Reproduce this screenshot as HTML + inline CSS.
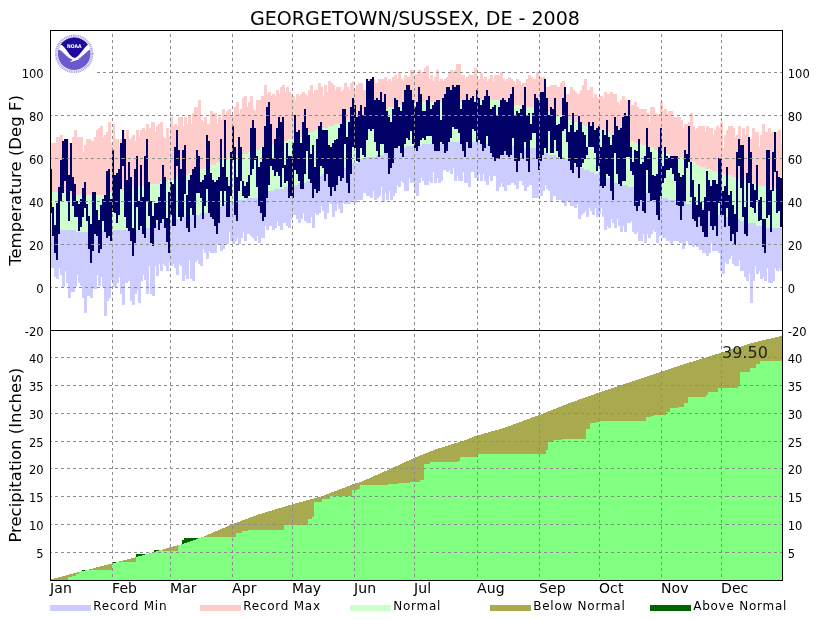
<!DOCTYPE html>
<html lang="en"><head><meta charset="utf-8"><title>GEORGETOWN/SUSSEX, DE - 2008</title>
<style>html,body{margin:0;padding:0;background:#fff}body{width:832px;height:620px;overflow:hidden}svg{display:block}</style>
</head><body>
<svg width="832" height="620" viewBox="0 0 832 620" shape-rendering="crispEdges" font-family='"DejaVu Sans","Liberation Sans",sans-serif'>
<rect x="0" y="0" width="832" height="620" fill="#fff"/>
<path fill="#ffcccc" d="M51 143h5v49h-5zM56 137h4v55h-4zM60 135h3v57h-3zM63 141h1v51h-1zM64 139h5v53h-5zM69 143h1v49h-1zM70 143h2v52h-2zM72 137h2v58h-2zM74 130h3v65h-3zM77 137h6v58h-6zM83 152h1v43h-1zM84 145h2v50h-2zM86 139h5v56h-5zM91 141h3v54h-3zM94 137h2v58h-2zM96 130h2v65h-2zM98 128h2v67h-2zM100 126h3v69h-3zM103 137h1v58h-1zM104 135h2v60h-2zM106 132h2v63h-2zM108 122h2v73h-2zM110 122h1v70h-1zM111 143h2v49h-2zM113 124h2v68h-2zM115 139h4v53h-4zM119 147h1v45h-1zM120 139h2v51h-2zM122 130h3v60h-3zM125 139h1v51h-1zM126 130h2v60h-2zM128 130h1v58h-1zM129 139h2v49h-2zM131 137h1v51h-1zM132 135h3v53h-3zM135 141h1v47h-1zM136 130h3v56h-3zM139 137h1v49h-1zM140 130h2v56h-2zM142 128h2v58h-2zM144 128h1v56h-1zM145 131h1v53h-1zM146 124h3v60h-3zM149 128h2v56h-2zM151 122h4v62h-4zM155 132h1v52h-1zM156 126h2v58h-2zM158 124h2v60h-2zM160 122h3v60h-3zM163 137h2v45h-2zM165 139h1v43h-1zM166 128h2v54h-2zM168 128h1v52h-1zM169 137h1v43h-1zM170 117h3v63h-3zM173 126h1v54h-1zM174 124h3v53h-3zM177 126h1v51h-1zM178 117h2v60h-2zM180 117h3v58h-3zM183 126h1v49h-1zM184 117h3v58h-3zM187 124h1v51h-1zM188 115h3v58h-3zM191 124h1v49h-1zM192 113h2v60h-2zM194 107h4v64h-4zM198 100h2v71h-2zM200 100h1v69h-1zM201 120h2v49h-2zM203 122h1v47h-1zM204 117h3v50h-3zM207 124h3v43h-3zM210 111h3v54h-3zM213 113h3v52h-3zM216 113h1v49h-1zM217 124h1v38h-1zM218 117h3v45h-3zM221 120h1v42h-1zM222 109h3v51h-3zM225 115h1v45h-1zM226 111h2v49h-2zM228 109h3v49h-3zM231 115h3v43h-3zM234 107h2v49h-2zM236 102h3v54h-3zM239 113h1v43h-1zM240 109h2v47h-2zM242 98h2v56h-2zM244 96h3v58h-3zM247 107h1v47h-1zM248 102h2v50h-2zM250 96h3v56h-3zM253 109h1v43h-1zM254 109h1v41h-1zM255 111h1v39h-1zM256 100h4v50h-4zM260 100h1v47h-1zM261 96h3v51h-3zM264 85h3v62h-3zM267 94h1v53h-1zM268 92h3v53h-3zM271 96h1v49h-1zM272 94h2v51h-2zM274 94h1v49h-1zM275 96h1v47h-1zM276 90h3v53h-3zM279 94h1v49h-1zM280 87h2v54h-2zM282 85h3v56h-3zM285 92h1v49h-1zM286 87h2v54h-2zM288 87h1v52h-1zM289 92h2v47h-2zM291 94h2v45h-2zM293 96h2v43h-2zM295 100h1v39h-1zM296 94h3v43h-3zM299 96h1v41h-1zM300 94h2v43h-2zM302 92h2v45h-2zM304 92h1v43h-1zM305 94h2v41h-2zM307 96h1v39h-1zM308 90h2v42h-2zM310 85h3v47h-3zM313 94h1v38h-1zM314 90h4v40h-4zM318 83h2v47h-2zM320 83h1v45h-1zM321 87h2v41h-2zM323 96h1v32h-1zM324 85h3v43h-3zM327 92h1v36h-1zM328 81h3v45h-3zM331 83h2v43h-2zM333 85h1v41h-1zM334 85h1v39h-1zM335 90h1v34h-1zM336 87h5v37h-5zM341 92h1v32h-1zM342 90h2v32h-2zM344 83h2v39h-2zM346 83h1v37h-1zM347 87h2v33h-2zM349 90h1v30h-1zM350 83h2v37h-2zM352 81h2v39h-2zM354 90h2v27h-2zM356 85h2v32h-2zM358 83h2v34h-2zM360 83h3v32h-3zM363 90h3v25h-3zM366 79h2v36h-2zM368 79h6v34h-6zM374 79h1v32h-1zM375 83h3v28h-3zM378 79h4v32h-4zM382 79h2v30h-2zM384 77h3v32h-3zM387 81h1v28h-1zM388 79h3v28h-3zM391 81h1v26h-1zM392 77h2v30h-2zM394 75h3v32h-3zM397 79h1v28h-1zM398 72h3v33h-3zM401 79h2v26h-2zM403 81h1v24h-1zM404 75h2v30h-2zM406 75h1v27h-1zM407 77h3v25h-3zM410 70h4v32h-4zM414 77h1v25h-1zM415 74h3v28h-3zM418 70h3v32h-3zM421 72h3v30h-3zM424 68h2v34h-2zM426 66h3v36h-3zM429 79h1v23h-1zM430 75h3v27h-3zM433 81h1v21h-1zM434 77h2v25h-2zM436 70h3v32h-3zM439 81h1v21h-1zM440 79h3v23h-3zM443 81h1v21h-1zM444 79h2v23h-2zM446 77h2v25h-2zM448 72h2v30h-2zM450 70h3v32h-3zM453 72h1v30h-1zM454 70h2v32h-2zM456 64h5v38h-5zM461 75h4v27h-4zM465 79h1v23h-1zM466 77h2v25h-2zM468 75h6v27h-6zM474 68h3v32h-3zM477 79h3v21h-3zM480 73h3v27h-3zM483 79h1v21h-1zM484 77h3v23h-3zM487 81h1v19h-1zM488 79h2v21h-2zM490 75h3v25h-3zM493 81h1v19h-1zM494 75h6v25h-6zM500 72h3v30h-3zM503 79h2v23h-2zM505 81h1v21h-1zM506 79h2v23h-2zM508 77h3v25h-3zM511 79h1v23h-1zM512 79h1v26h-1zM513 81h2v24h-2zM515 85h1v20h-1zM516 79h3v26h-3zM519 81h2v24h-2zM521 85h1v20h-1zM522 83h2v22h-2zM524 83h2v24h-2zM526 79h2v28h-2zM528 75h3v32h-3zM531 77h2v30h-2zM533 79h1v28h-1zM534 79h2v30h-2zM536 72h3v37h-3zM539 77h1v32h-1zM540 77h5v34h-5zM545 87h3v24h-3zM548 87h2v26h-2zM550 85h6v28h-6zM556 85h1v30h-1zM557 87h3v28h-3zM560 83h2v32h-2zM562 81h2v34h-2zM564 81h1v36h-1zM565 87h1v30h-1zM566 94h2v23h-2zM568 94h2v26h-2zM570 87h3v33h-3zM573 90h1v30h-1zM574 90h1v32h-1zM575 92h2v30h-2zM577 94h1v28h-1zM578 94h2v30h-2zM580 90h2v34h-2zM582 85h2v39h-2zM584 79h3v47h-3zM587 90h3v36h-3zM590 87h3v41h-3zM593 98h1v30h-1zM594 94h3v34h-3zM597 98h3v30h-3zM600 96h3v34h-3zM603 98h1v32h-1zM604 92h3v40h-3zM607 94h3v38h-3zM610 92h3v43h-3zM613 94h1v41h-1zM614 94h3v43h-3zM617 102h2v35h-2zM619 105h1v32h-1zM620 100h2v37h-2zM622 96h3v43h-3zM625 100h3v39h-3zM628 100h3v41h-3zM631 105h3v36h-3zM634 102h3v41h-3zM637 107h2v36h-2zM639 109h3v34h-3zM642 109h5v36h-5zM647 113h1v32h-1zM648 113h1v34h-1zM649 122h1v25h-1zM650 107h4v40h-4zM654 107h1v43h-1zM655 113h2v37h-2zM657 114h3v36h-3zM660 102h3v50h-3zM663 111h1v41h-1zM664 109h3v45h-3zM667 114h1v40h-1zM668 111h2v43h-2zM670 111h3v45h-3zM673 117h3v39h-3zM676 117h5v41h-5zM681 120h2v38h-2zM683 128h1v30h-1zM684 124h4v36h-4zM688 122h2v38h-2zM690 113h3v49h-3zM693 126h2v36h-2zM695 130h1v32h-1zM696 128h2v37h-2zM698 126h2v39h-2zM700 126h5v41h-5zM705 132h1v35h-1zM706 126h3v43h-3zM709 128h3v41h-3zM712 128h1v43h-1zM713 135h1v36h-1zM714 130h2v41h-2zM716 126h2v45h-2zM718 126h1v47h-1zM719 128h1v45h-1zM720 122h3v51h-3zM723 148h1v25h-1zM724 135h2v40h-2zM726 130h2v45h-2zM728 126h4v49h-4zM732 126h1v51h-1zM733 128h2v49h-2zM735 137h1v40h-1zM736 135h2v42h-2zM738 126h3v54h-3zM741 139h1v41h-1zM742 128h3v52h-3zM745 135h1v45h-1zM746 126h3v56h-3zM749 137h1v45h-1zM750 139h2v43h-2zM752 128h3v56h-3zM755 132h3v52h-3zM758 132h1v54h-1zM759 147h1v39h-1zM760 135h2v51h-2zM762 124h3v62h-3zM765 132h1v54h-1zM766 132h2v56h-2zM768 128h3v60h-3zM771 132h7v56h-7zM778 130h3v60h-3zM781 144h1v46h-1z"/>
<path fill="#ccffcc" d="M51 192h19v38h-19zM70 195h6v35h-6zM76 195h14v37h-14zM90 195h20v35h-20zM110 192h10v38h-10zM120 190h8v40h-8zM128 188h8v42h-8zM136 186h4v44h-4zM140 186h4v42h-4zM144 184h6v44h-6zM150 184h4v42h-4zM154 184h4v39h-4zM158 184h2v37h-2zM160 182h8v39h-8zM168 180h2v41h-2zM170 180h4v39h-4zM174 177h6v42h-6zM180 175h8v42h-8zM188 173h2v44h-2zM190 173h4v42h-4zM194 171h6v44h-6zM200 169h4v44h-4zM204 167h4v46h-4zM208 167h2v44h-2zM210 165h4v46h-4zM214 165h2v43h-2zM216 162h2v46h-2zM218 162h4v44h-4zM222 160h2v46h-2zM224 160h4v44h-4zM228 158h2v46h-2zM230 158h4v44h-4zM234 156h2v46h-2zM236 156h6v44h-6zM242 154h4v46h-4zM246 154h2v44h-2zM248 152h6v46h-6zM254 150h6v48h-6zM260 147h4v49h-4zM264 147h4v46h-4zM268 145h6v46h-6zM274 143h6v46h-6zM280 141h4v48h-4zM284 141h4v46h-4zM288 139h4v48h-4zM292 139h4v46h-4zM296 137h2v48h-2zM298 137h6v46h-6zM304 135h2v48h-2zM306 135h2v46h-2zM308 132h4v49h-4zM312 132h2v46h-2zM314 130h2v48h-2zM316 130h4v46h-4zM320 128h2v48h-2zM322 128h6v46h-6zM328 126h2v48h-2zM330 126h4v46h-4zM334 124h4v48h-4zM338 124h4v46h-4zM342 122h2v48h-2zM344 122h2v46h-2zM346 120h4v48h-4zM350 120h2v46h-2zM352 120h2v43h-2zM354 117h4v46h-4zM358 117h2v44h-2zM360 115h6v44h-6zM366 115h2v42h-2zM368 113h6v44h-6zM374 111h2v46h-2zM376 111h6v44h-6zM382 109h2v46h-2zM384 109h4v44h-4zM388 107h2v46h-2zM390 107h4v44h-4zM394 107h4v41h-4zM398 105h8v43h-8zM406 102h16v44h-16zM422 102h26v42h-26zM448 102h26v40h-26zM474 100h8v42h-8zM482 100h18v44h-18zM500 102h12v44h-12zM512 105h8v41h-8zM520 105h4v43h-4zM524 107h10v41h-10zM534 109h2v39h-2zM536 109h4v42h-4zM540 111h2v40h-2zM542 111h6v42h-6zM548 113h8v42h-8zM556 115h8v42h-8zM564 117h4v42h-4zM568 120h2v39h-2zM570 120h2v41h-2zM572 120h2v43h-2zM574 122h4v44h-4zM578 124h2v42h-2zM580 124h4v44h-4zM584 126h6v44h-6zM590 128h4v44h-4zM594 128h6v46h-6zM600 130h4v46h-4zM604 132h6v46h-6zM610 135h4v46h-4zM614 137h6v46h-6zM620 137h2v48h-2zM622 139h6v46h-6zM628 141h6v46h-6zM634 143h6v46h-6zM640 143h2v48h-2zM642 145h4v46h-4zM646 145h2v48h-2zM648 147h6v46h-6zM654 150h6v46h-6zM660 152h4v46h-4zM664 154h4v44h-4zM668 154h2v46h-2zM670 156h6v44h-6zM676 158h8v44h-8zM684 160h2v42h-2zM686 160h4v44h-4zM690 162h2v42h-2zM692 162h4v44h-4zM696 165h4v41h-4zM700 167h6v41h-6zM706 169h6v42h-6zM712 171h6v42h-6zM718 173h6v42h-6zM724 175h2v40h-2zM726 175h6v42h-6zM732 177h6v42h-6zM738 180h2v39h-2zM740 180h6v41h-6zM746 182h2v39h-2zM748 182h4v41h-4zM752 184h4v39h-4zM756 184h2v42h-2zM758 186h4v40h-4zM762 186h4v42h-4zM766 188h12v40h-12zM778 190h4v38h-4z"/>
<path fill="#ccccff" d="M51 230h3v38h-3zM54 230h2v47h-2zM56 230h3v49h-3zM59 230h1v38h-1zM60 230h2v45h-2zM62 230h3v57h-3zM65 230h1v41h-1zM66 230h2v53h-2zM68 230h3v68h-3zM71 230h4v62h-4zM75 230h1v57h-1zM76 232h1v55h-1zM77 232h1v43h-1zM78 232h2v51h-2zM80 232h2v54h-2zM82 232h2v66h-2zM84 232h3v81h-3zM87 232h3v64h-3zM90 230h3v68h-3zM93 230h4v59h-4zM97 230h1v45h-1zM98 230h3v56h-3zM101 230h1v47h-1zM102 230h2v57h-2zM104 230h3v86h-3zM107 230h2v71h-2zM109 230h2v68h-2zM111 230h2v50h-2zM113 230h4v57h-4zM117 230h2v53h-2zM119 230h1v47h-1zM120 230h2v64h-2zM122 230h3v75h-3zM125 230h3v53h-3zM128 230h2v51h-2zM130 230h2v71h-2zM132 230h3v75h-3zM135 230h2v64h-2zM137 230h1v60h-1zM138 230h2v73h-2zM140 228h1v75h-1zM141 228h2v53h-2zM143 228h1v47h-1zM144 228h2v52h-2zM146 228h3v66h-3zM149 228h1v38h-1zM150 226h2v68h-2zM152 226h2v70h-2zM154 223h1v73h-1zM155 223h1v43h-1zM156 223h2v53h-2zM158 221h1v55h-1zM159 221h1v43h-1zM160 221h3v50h-3zM163 221h1v43h-1zM164 221h2v45h-2zM166 221h3v50h-3zM169 221h1v41h-1zM170 219h3v47h-3zM173 219h1v45h-1zM174 219h2v49h-2zM176 219h3v56h-3zM179 219h1v45h-1zM180 217h2v49h-2zM182 217h3v64h-3zM185 217h1v58h-1zM186 217h3v62h-3zM189 217h1v43h-1zM190 215h2v64h-2zM192 215h3v66h-3zM195 215h2v47h-2zM197 215h1v45h-1zM198 215h2v49h-2zM200 213h3v53h-3zM203 213h1v36h-1zM204 213h2v40h-2zM206 213h2v46h-2zM208 211h1v48h-1zM209 211h1v40h-1zM210 211h4v42h-4zM214 208h3v45h-3zM217 208h1v36h-1zM218 206h2v38h-2zM220 206h3v45h-3zM223 206h1v43h-1zM224 204h1v45h-1zM225 204h4v40h-4zM229 204h1v28h-1zM230 202h2v39h-2zM232 202h3v42h-3zM235 202h1v39h-1zM236 200h1v41h-1zM237 200h1v38h-1zM238 200h3v44h-3zM241 200h2v38h-2zM243 200h1v32h-1zM244 200h2v41h-2zM246 198h1v43h-1zM247 198h3v36h-3zM250 198h2v38h-2zM252 198h2v40h-2zM254 198h3v43h-3zM257 198h1v38h-1zM258 198h2v45h-2zM260 196h1v47h-1zM261 196h3v42h-3zM264 193h1v45h-1zM265 193h1v33h-1zM266 193h2v37h-2zM268 191h1v39h-1zM269 191h3v35h-3zM272 191h2v39h-2zM274 189h1v41h-1zM275 189h2v39h-2zM277 189h1v32h-1zM278 189h2v37h-2zM280 189h3v41h-3zM283 189h1v34h-1zM284 187h2v36h-2zM286 187h2v39h-2zM288 187h3v41h-3zM291 187h1v32h-1zM292 185h1v34h-1zM293 185h3v30h-3zM296 185h2v34h-2zM298 183h3v40h-3zM301 183h2v36h-2zM303 183h1v30h-1zM304 183h2v38h-2zM306 181h5v42h-5zM311 181h1v36h-1zM312 178h3v50h-3zM315 178h1v35h-1zM316 176h3v39h-3zM319 176h2v37h-2zM321 176h1v30h-1zM322 174h2v37h-2zM324 174h3v45h-3zM327 174h2v39h-2zM329 174h1v28h-1zM330 172h2v32h-2zM332 172h3v45h-3zM335 172h2v39h-2zM337 172h1v32h-1zM338 170h2v39h-2zM340 170h3v43h-3zM343 170h1v33h-1zM344 168h6v36h-6zM350 166h1v38h-1zM351 166h1v36h-1zM352 163h2v39h-2zM354 163h3v40h-3zM357 163h1v37h-1zM358 161h2v39h-2zM360 159h3v41h-3zM363 159h3v34h-3zM366 157h4v39h-4zM370 157h3v41h-3zM373 157h1v34h-1zM374 157h2v43h-2zM376 155h1v45h-1zM377 155h2v43h-2zM379 155h2v41h-2zM381 155h1v32h-1zM382 155h2v47h-2zM384 153h1v49h-1zM385 153h1v40h-1zM386 153h3v47h-3zM389 153h1v38h-1zM390 151h3v49h-3zM393 151h1v45h-1zM394 148h1v48h-1zM395 148h2v45h-2zM397 148h1v37h-1zM398 148h3v39h-3zM401 148h1v33h-1zM402 148h2v35h-2zM404 148h2v43h-2zM406 146h3v45h-3zM409 146h1v32h-1zM410 146h4v37h-4zM414 146h2v47h-2zM416 146h3v50h-3zM419 146h2v37h-2zM421 146h1v32h-1zM422 144h2v37h-2zM424 144h5v41h-5zM429 144h1v37h-1zM430 144h3v39h-3zM433 144h1v28h-1zM434 144h3v39h-3zM437 144h1v34h-1zM438 144h3v39h-3zM441 144h2v37h-2zM443 144h3v26h-3zM446 144h2v28h-2zM448 142h1v30h-1zM449 142h1v28h-1zM450 142h3v32h-3zM453 142h1v26h-1zM454 142h3v39h-3zM457 142h1v34h-1zM458 142h5v39h-5zM463 142h1v30h-1zM464 142h4v41h-4zM468 142h3v45h-3zM471 142h3v30h-3zM474 142h3v36h-3zM477 142h2v39h-2zM479 142h1v32h-1zM480 142h2v39h-2zM482 144h1v37h-1zM483 144h1v30h-1zM484 144h2v37h-2zM486 144h3v41h-3zM489 144h1v32h-1zM490 144h3v37h-3zM493 144h3v32h-3zM496 144h3v47h-3zM499 144h1v43h-1zM500 146h1v41h-1zM501 146h1v37h-1zM502 146h2v41h-2zM504 146h3v45h-3zM507 146h4v39h-4zM511 146h3v37h-3zM514 146h2v39h-2zM516 146h3v43h-3zM519 146h1v35h-1zM520 148h2v33h-2zM522 148h2v37h-2zM524 148h3v43h-3zM527 148h2v39h-2zM529 148h3v37h-3zM532 148h4v50h-4zM536 151h3v47h-3zM539 151h1v32h-1zM540 151h2v45h-2zM542 153h1v43h-1zM543 153h2v38h-2zM545 153h1v32h-1zM546 153h2v36h-2zM548 155h2v36h-2zM550 155h3v47h-3zM553 155h3v41h-3zM556 157h5v43h-5zM561 157h1v45h-1zM562 157h2v46h-2zM564 159h3v47h-3zM567 159h3v42h-3zM570 161h2v45h-2zM572 163h2v43h-2zM574 166h3v42h-3zM577 166h1v38h-1zM578 166h2v53h-2zM580 168h1v51h-1zM581 168h2v47h-2zM583 168h1v45h-1zM584 170h1v43h-1zM585 170h1v41h-1zM586 170h3v47h-3zM589 170h1v38h-1zM590 172h2v39h-2zM592 172h2v43h-2zM594 174h1v41h-1zM595 174h1v34h-1zM596 174h3v43h-3zM599 174h1v40h-1zM600 176h1v38h-1zM601 176h1v32h-1zM602 176h2v41h-2zM604 178h3v52h-3zM607 178h1v48h-1zM608 178h2v50h-2zM610 181h1v47h-1zM611 181h1v38h-1zM612 181h2v42h-2zM614 183h3v45h-3zM617 183h1v36h-1zM618 183h2v43h-2zM620 185h3v47h-3zM623 185h1v41h-1zM624 185h3v47h-3zM627 185h1v38h-1zM628 187h3v36h-3zM631 187h1v34h-1zM632 187h2v45h-2zM634 189h3v45h-3zM637 189h1v43h-1zM638 189h2v52h-2zM640 191h3v50h-3zM643 191h1v43h-1zM644 191h2v52h-2zM646 193h1v50h-1zM647 193h1v41h-1zM648 193h3v45h-3zM651 193h2v41h-2zM653 193h1v37h-1zM654 196h2v36h-2zM656 196h3v47h-3zM659 196h1v40h-1zM660 198h1v38h-1zM661 198h1v36h-1zM662 198h4v40h-4zM666 198h2v43h-2zM668 200h2v41h-2zM670 200h3v44h-3zM673 200h3v41h-3zM676 202h3v39h-3zM679 202h3v41h-3zM682 202h3v47h-3zM685 202h1v43h-1zM686 204h2v37h-2zM688 204h4v41h-4zM692 206h3v41h-3zM695 206h1v38h-1zM696 206h3v41h-3zM699 206h1v44h-1zM700 208h2v42h-2zM702 208h4v45h-4zM706 211h3v45h-3zM709 211h2v42h-2zM711 211h1v32h-1zM712 213h6v38h-6zM718 215h2v38h-2zM720 215h2v56h-2zM722 215h3v59h-3zM725 215h1v47h-1zM726 217h3v47h-3zM729 217h2v42h-2zM731 217h1v39h-1zM732 219h2v45h-2zM734 219h5v47h-5zM739 219h1v41h-1zM740 221h4v50h-4zM744 221h2v56h-2zM746 221h2v60h-2zM748 223h1v58h-1zM749 223h1v50h-1zM750 223h3v80h-3zM753 223h2v58h-2zM755 223h1v43h-1zM756 226h3v48h-3zM759 226h1v45h-1zM760 226h2v53h-2zM762 228h1v51h-1zM763 228h1v49h-1zM764 228h3v53h-3zM767 228h1v40h-1zM768 228h5v55h-5zM773 228h2v53h-2zM775 228h1v40h-1zM776 228h3v43h-3zM779 228h1v40h-1zM780 228h2v43h-2z"/>
<path fill="#000066" d="M51 169h1v44h-1zM52 207h1v29h-1zM53 207h1v29h-1zM54 225h1v28h-1zM55 225h1v28h-1zM56 203h1v57h-1zM57 203h1v57h-1zM58 187h1v47h-1zM59 187h1v47h-1zM60 160h1v41h-1zM61 160h1v41h-1zM62 141h1v52h-1zM63 141h1v52h-1zM64 139h1v42h-1zM65 139h1v42h-1zM66 139h1v62h-1zM67 139h1v62h-1zM68 175h1v46h-1zM69 175h1v46h-1zM70 143h1v48h-1zM71 143h1v48h-1zM72 177h1v29h-1zM73 177h1v29h-1zM74 184h1v33h-1zM75 184h1v33h-1zM76 201h1v16h-1zM77 201h1v16h-1zM78 204h1v27h-1zM79 204h1v27h-1zM80 199h1v28h-1zM81 199h1v28h-1zM82 188h1v29h-1zM83 188h1v29h-1zM84 182h1v26h-1zM85 182h1v26h-1zM86 204h1v17h-1zM87 204h1v17h-1zM88 216h1v33h-1zM89 216h1v33h-1zM90 224h1v39h-1zM91 224h1v39h-1zM92 192h1v59h-1zM93 192h1v59h-1zM94 192h1v42h-1zM95 192h1v42h-1zM96 210h1v26h-1zM97 210h1v26h-1zM98 220h1v33h-1zM99 220h1v33h-1zM100 205h1v44h-1zM101 205h1v44h-1zM102 199h1v22h-1zM103 199h1v22h-1zM104 195h1v37h-1zM105 195h1v37h-1zM106 171h1v67h-1zM107 171h1v67h-1zM108 169h1v67h-1zM109 169h1v67h-1zM110 199h1v42h-1zM111 199h1v42h-1zM112 150h1v62h-1zM113 150h1v62h-1zM114 175h1v38h-1zM115 175h1v38h-1zM116 173h1v50h-1zM117 173h1v50h-1zM118 169h1v46h-1zM119 169h1v46h-1zM120 143h1v46h-1zM121 143h1v46h-1zM122 130h1v36h-1zM123 130h1v36h-1zM124 139h1v78h-1zM125 139h1v78h-1zM126 180h1v48h-1zM127 180h1v48h-1zM128 162h1v69h-1zM129 162h1v69h-1zM130 177h1v64h-1zM131 177h1v64h-1zM132 228h1v28h-1zM133 228h1v28h-1zM134 169h1v74h-1zM135 169h1v74h-1zM136 156h1v51h-1zM137 156h1v51h-1zM138 201h1v29h-1zM139 201h1v29h-1zM140 165h1v61h-1zM141 165h1v61h-1zM142 197h1v37h-1zM143 197h1v37h-1zM144 156h1v82h-1zM145 156h1v82h-1zM146 139h1v63h-1zM147 139h1v63h-1zM148 182h1v34h-1zM149 182h1v34h-1zM150 201h1v42h-1zM151 201h1v42h-1zM152 216h1v30h-1zM153 216h1v30h-1zM154 203h1v25h-1zM155 203h1v25h-1zM156 203h1v17h-1zM157 203h1v17h-1zM158 197h1v33h-1zM159 197h1v33h-1zM160 184h1v39h-1zM161 184h1v39h-1zM162 165h1v54h-1zM163 165h1v54h-1zM164 177h1v51h-1zM165 177h1v51h-1zM166 218h1v24h-1zM167 218h1v24h-1zM168 192h1v61h-1zM169 192h1v61h-1zM170 182h1v33h-1zM171 182h1v33h-1zM172 184h1v42h-1zM173 184h1v42h-1zM174 147h1v79h-1zM175 147h1v79h-1zM176 130h1v36h-1zM177 130h1v36h-1zM178 150h1v67h-1zM179 150h1v67h-1zM180 169h1v52h-1zM181 169h1v52h-1zM182 150h1v67h-1zM183 150h1v67h-1zM184 145h1v49h-1zM185 145h1v49h-1zM186 195h1v33h-1zM187 195h1v33h-1zM188 180h1v52h-1zM189 180h1v52h-1zM190 175h1v33h-1zM191 175h1v33h-1zM192 169h1v46h-1zM193 169h1v46h-1zM194 167h1v61h-1zM195 167h1v61h-1zM196 150h1v43h-1zM197 150h1v43h-1zM198 156h1v37h-1zM199 156h1v37h-1zM200 182h1v16h-1zM201 182h1v16h-1zM202 180h1v39h-1zM203 180h1v39h-1zM204 175h1v31h-1zM205 175h1v31h-1zM206 135h1v54h-1zM207 135h1v54h-1zM208 141h1v72h-1zM209 141h1v72h-1zM210 173h1v44h-1zM211 173h1v44h-1zM212 180h1v39h-1zM213 180h1v39h-1zM214 182h1v44h-1zM215 182h1v44h-1zM216 180h1v54h-1zM217 180h1v54h-1zM218 177h1v46h-1zM219 177h1v46h-1zM220 139h1v52h-1zM221 139h1v52h-1zM222 167h1v39h-1zM223 167h1v39h-1zM224 120h1v71h-1zM225 120h1v71h-1zM226 177h1v40h-1zM227 177h1v40h-1zM228 186h1v31h-1zM229 186h1v31h-1zM230 152h1v44h-1zM231 152h1v44h-1zM232 126h1v34h-1zM233 126h1v34h-1zM234 147h1v68h-1zM235 147h1v68h-1zM236 177h1v44h-1zM237 177h1v44h-1zM238 137h1v54h-1zM239 137h1v54h-1zM240 147h1v34h-1zM241 147h1v34h-1zM242 181h1v15h-1zM243 181h1v15h-1zM244 186h1v12h-1zM245 186h1v12h-1zM246 182h1v16h-1zM247 182h1v16h-1zM248 175h1v21h-1zM249 175h1v21h-1zM250 128h1v47h-1zM251 128h1v47h-1zM252 120h1v49h-1zM253 120h1v49h-1zM254 128h1v32h-1zM255 128h1v32h-1zM256 156h1v31h-1zM257 156h1v31h-1zM258 167h1v39h-1zM259 167h1v39h-1zM260 162h1v51h-1zM261 162h1v51h-1zM262 147h1v74h-1zM263 147h1v74h-1zM264 126h1v91h-1zM265 126h1v91h-1zM266 107h1v91h-1zM267 107h1v91h-1zM268 102h1v83h-1zM269 102h1v83h-1zM270 124h1v42h-1zM271 124h1v42h-1zM272 159h1v11h-1zM273 159h1v11h-1zM274 139h1v37h-1zM275 139h1v37h-1zM276 128h1v44h-1zM277 128h1v44h-1zM278 117h1v59h-1zM279 117h1v59h-1zM280 122h1v65h-1zM281 122h1v65h-1zM282 117h1v51h-1zM283 117h1v51h-1zM284 165h1v18h-1zM285 165h1v18h-1zM286 143h1v38h-1zM287 143h1v38h-1zM288 156h1v42h-1zM289 156h1v42h-1zM290 156h1v40h-1zM291 156h1v40h-1zM292 143h1v55h-1zM293 143h1v55h-1zM294 115h1v55h-1zM295 115h1v55h-1zM296 132h1v42h-1zM297 132h1v42h-1zM298 130h1v51h-1zM299 130h1v51h-1zM300 143h1v46h-1zM301 143h1v46h-1zM302 122h1v67h-1zM303 122h1v67h-1zM304 109h1v65h-1zM305 109h1v65h-1zM306 128h1v23h-1zM307 128h1v23h-1zM308 135h1v44h-1zM309 135h1v44h-1zM310 154h1v29h-1zM311 154h1v29h-1zM312 145h1v53h-1zM313 145h1v53h-1zM314 167h1v22h-1zM315 167h1v22h-1zM316 139h1v54h-1zM317 139h1v54h-1zM318 126h1v65h-1zM319 126h1v65h-1zM320 122h1v44h-1zM321 122h1v44h-1zM322 130h1v38h-1zM323 130h1v38h-1zM324 130h1v51h-1zM325 130h1v51h-1zM326 130h1v44h-1zM327 130h1v44h-1zM328 145h1v42h-1zM329 145h1v42h-1zM330 147h1v49h-1zM331 147h1v49h-1zM332 143h1v44h-1zM333 143h1v44h-1zM334 140h1v51h-1zM335 140h1v51h-1zM336 139h1v46h-1zM337 139h1v46h-1zM338 128h1v48h-1zM339 128h1v48h-1zM340 124h1v57h-1zM341 124h1v57h-1zM342 109h1v69h-1zM343 109h1v69h-1zM344 109h1v35h-1zM345 109h1v35h-1zM346 137h1v46h-1zM347 137h1v46h-1zM348 122h1v71h-1zM349 122h1v71h-1zM350 107h1v67h-1zM351 107h1v67h-1zM352 98h1v49h-1zM353 98h1v49h-1zM354 105h1v43h-1zM355 105h1v43h-1zM356 117h1v44h-1zM357 117h1v44h-1zM358 111h1v51h-1zM359 111h1v51h-1zM360 105h1v43h-1zM361 105h1v43h-1zM362 115h1v40h-1zM363 115h1v40h-1zM364 107h1v50h-1zM365 107h1v50h-1zM366 79h1v61h-1zM367 79h1v61h-1zM368 81h1v48h-1zM369 81h1v48h-1zM370 79h1v52h-1zM371 79h1v52h-1zM372 77h1v52h-1zM373 77h1v52h-1zM374 100h1v42h-1zM375 100h1v42h-1zM376 98h1v53h-1zM377 98h1v53h-1zM378 100h1v57h-1zM379 100h1v57h-1zM380 92h1v52h-1zM381 92h1v52h-1zM382 102h1v42h-1zM383 102h1v42h-1zM384 94h1v59h-1zM385 94h1v59h-1zM386 111h1v42h-1zM387 111h1v42h-1zM388 117h1v57h-1zM389 117h1v57h-1zM390 122h1v46h-1zM391 122h1v46h-1zM392 109h1v54h-1zM393 109h1v54h-1zM394 98h1v50h-1zM395 98h1v50h-1zM396 100h1v48h-1zM397 100h1v48h-1zM398 107h1v39h-1zM399 107h1v39h-1zM400 111h1v42h-1zM401 111h1v42h-1zM402 102h1v55h-1zM403 102h1v55h-1zM404 90h1v54h-1zM405 90h1v54h-1zM406 85h1v53h-1zM407 85h1v53h-1zM408 85h1v55h-1zM409 85h1v55h-1zM410 90h1v41h-1zM411 90h1v41h-1zM412 100h1v44h-1zM413 100h1v44h-1zM414 107h1v41h-1zM415 107h1v41h-1zM416 102h1v49h-1zM417 102h1v49h-1zM418 87h1v59h-1zM419 87h1v59h-1zM420 94h1v46h-1zM421 94h1v46h-1zM422 111h1v27h-1zM423 111h1v27h-1zM424 111h1v29h-1zM425 111h1v29h-1zM426 100h1v36h-1zM427 100h1v36h-1zM428 96h1v40h-1zM429 96h1v40h-1zM430 109h1v27h-1zM431 109h1v27h-1zM432 105h1v39h-1zM433 105h1v39h-1zM434 102h1v49h-1zM435 102h1v49h-1zM436 100h1v51h-1zM437 100h1v51h-1zM438 100h1v51h-1zM439 100h1v51h-1zM440 120h1v22h-1zM441 120h1v22h-1zM442 98h1v46h-1zM443 98h1v46h-1zM444 94h1v59h-1zM445 94h1v59h-1zM446 87h1v64h-1zM447 87h1v64h-1zM448 87h1v55h-1zM449 87h1v55h-1zM450 90h1v48h-1zM451 90h1v48h-1zM452 85h1v42h-1zM453 85h1v42h-1zM454 87h1v42h-1zM455 87h1v42h-1zM456 85h1v44h-1zM457 85h1v44h-1zM458 85h1v48h-1zM459 85h1v48h-1zM460 109h1v35h-1zM461 109h1v35h-1zM462 100h1v51h-1zM463 100h1v51h-1zM464 100h1v57h-1zM465 100h1v57h-1zM466 94h1v48h-1zM467 94h1v48h-1zM468 100h1v48h-1zM469 100h1v48h-1zM470 98h1v50h-1zM471 98h1v50h-1zM472 96h1v33h-1zM473 96h1v33h-1zM474 102h1v29h-1zM475 102h1v29h-1zM476 90h1v52h-1zM477 90h1v52h-1zM478 98h1v42h-1zM479 98h1v42h-1zM480 105h1v39h-1zM481 105h1v39h-1zM482 100h1v51h-1zM483 100h1v51h-1zM484 96h1v52h-1zM485 96h1v52h-1zM486 90h1v46h-1zM487 90h1v46h-1zM488 96h1v50h-1zM489 96h1v50h-1zM490 109h1v44h-1zM491 109h1v44h-1zM492 107h1v50h-1zM493 107h1v50h-1zM494 105h1v56h-1zM495 105h1v56h-1zM496 115h1v44h-1zM497 115h1v44h-1zM498 107h1v52h-1zM499 107h1v52h-1zM500 100h1v55h-1zM501 100h1v55h-1zM502 98h1v57h-1zM503 98h1v57h-1zM504 100h1v51h-1zM505 100h1v51h-1zM506 102h1v53h-1zM507 102h1v53h-1zM508 98h1v59h-1zM509 98h1v59h-1zM510 94h1v61h-1zM511 94h1v61h-1zM512 87h1v51h-1zM513 87h1v51h-1zM514 115h1v46h-1zM515 115h1v46h-1zM516 111h1v61h-1zM517 111h1v61h-1zM518 113h1v48h-1zM519 113h1v48h-1zM520 109h1v44h-1zM521 109h1v44h-1zM522 105h1v54h-1zM523 105h1v54h-1zM524 87h1v55h-1zM525 87h1v55h-1zM526 115h1v46h-1zM527 115h1v46h-1zM528 113h1v59h-1zM529 113h1v59h-1zM530 124h1v16h-1zM531 124h1v16h-1zM532 113h1v20h-1zM533 113h1v20h-1zM534 94h1v39h-1zM535 94h1v39h-1zM536 98h1v61h-1zM537 98h1v61h-1zM538 100h1v70h-1zM539 100h1v70h-1zM540 92h1v69h-1zM541 92h1v69h-1zM542 92h1v63h-1zM543 92h1v63h-1zM544 79h1v69h-1zM545 79h1v69h-1zM546 98h1v55h-1zM547 98h1v55h-1zM548 115h1v16h-1zM549 115h1v16h-1zM550 107h1v46h-1zM551 107h1v46h-1zM552 109h1v44h-1zM553 109h1v44h-1zM554 98h1v42h-1zM555 98h1v42h-1zM556 125h1v26h-1zM557 125h1v26h-1zM558 124h1v33h-1zM559 124h1v33h-1zM560 117h1v42h-1zM561 117h1v42h-1zM562 98h1v33h-1zM563 98h1v33h-1zM564 87h1v42h-1zM565 87h1v42h-1zM566 102h1v40h-1zM567 102h1v40h-1zM568 132h1v29h-1zM569 132h1v29h-1zM570 125h1v45h-1zM571 125h1v45h-1zM572 113h1v60h-1zM573 113h1v60h-1zM574 132h1v31h-1zM575 132h1v31h-1zM576 130h1v37h-1zM577 130h1v37h-1zM578 116h1v62h-1zM579 116h1v62h-1zM580 122h1v45h-1zM581 122h1v45h-1zM582 132h1v31h-1zM583 132h1v31h-1zM584 135h1v24h-1zM585 135h1v24h-1zM586 147h1v8h-1zM587 147h1v8h-1zM588 122h1v25h-1zM589 122h1v25h-1zM590 126h1v21h-1zM591 126h1v21h-1zM592 122h1v25h-1zM593 122h1v25h-1zM594 130h1v23h-1zM595 130h1v23h-1zM596 128h1v43h-1zM597 128h1v43h-1zM598 126h1v40h-1zM599 126h1v40h-1zM600 147h1v39h-1zM601 147h1v39h-1zM602 130h1v58h-1zM603 130h1v58h-1zM604 135h1v51h-1zM605 135h1v51h-1zM606 120h1v54h-1zM607 120h1v54h-1zM608 137h1v39h-1zM609 137h1v39h-1zM610 145h1v46h-1zM611 145h1v46h-1zM612 135h1v65h-1zM613 135h1v65h-1zM614 117h1v36h-1zM615 117h1v36h-1zM616 126h1v48h-1zM617 126h1v48h-1zM618 130h1v54h-1zM619 130h1v54h-1zM620 128h1v58h-1zM621 128h1v58h-1zM622 117h1v64h-1zM623 117h1v64h-1zM624 113h1v68h-1zM625 113h1v68h-1zM626 116h1v41h-1zM627 116h1v41h-1zM628 100h1v57h-1zM629 100h1v57h-1zM630 147h1v24h-1zM631 147h1v24h-1zM632 162h1v13h-1zM633 162h1v13h-1zM634 150h1v56h-1zM635 150h1v56h-1zM636 151h1v60h-1zM637 151h1v60h-1zM638 139h1v67h-1zM639 139h1v67h-1zM640 164h1v36h-1zM641 164h1v36h-1zM642 162h1v49h-1zM643 162h1v49h-1zM644 156h1v57h-1zM645 156h1v57h-1zM646 128h1v42h-1zM647 128h1v42h-1zM648 147h1v46h-1zM649 147h1v46h-1zM650 152h1v49h-1zM651 152h1v49h-1zM652 175h1v25h-1zM653 175h1v25h-1zM654 176h1v24h-1zM655 176h1v24h-1zM656 174h1v41h-1zM657 174h1v41h-1zM658 147h1v73h-1zM659 147h1v73h-1zM660 128h1v68h-1zM661 128h1v68h-1zM662 166h1v17h-1zM663 166h1v17h-1zM664 147h1v31h-1zM665 147h1v31h-1zM666 156h1v14h-1zM667 156h1v14h-1zM668 158h1v12h-1zM669 158h1v12h-1zM670 156h1v12h-1zM671 156h1v12h-1zM672 156h1v18h-1zM673 156h1v18h-1zM674 156h1v25h-1zM675 156h1v25h-1zM676 156h1v49h-1zM677 156h1v49h-1zM678 173h1v33h-1zM679 173h1v33h-1zM680 177h1v43h-1zM681 177h1v43h-1zM682 175h1v31h-1zM683 175h1v31h-1zM684 150h1v52h-1zM685 150h1v52h-1zM686 154h1v14h-1zM687 154h1v14h-1zM688 126h1v36h-1zM689 126h1v36h-1zM690 162h1v35h-1zM691 162h1v35h-1zM692 180h1v39h-1zM693 180h1v39h-1zM694 197h1v24h-1zM695 197h1v24h-1zM696 205h1v22h-1zM697 205h1v22h-1zM698 184h1v33h-1zM699 184h1v33h-1zM700 202h1v24h-1zM701 202h1v24h-1zM702 210h1v22h-1zM703 210h1v22h-1zM704 197h1v40h-1zM705 197h1v40h-1zM706 171h1v66h-1zM707 171h1v66h-1zM708 180h1v31h-1zM709 180h1v31h-1zM710 186h1v40h-1zM711 186h1v40h-1zM712 180h1v50h-1zM713 180h1v50h-1zM714 180h1v46h-1zM715 180h1v46h-1zM716 184h1v52h-1zM717 184h1v52h-1zM718 158h1v45h-1zM719 158h1v45h-1zM720 158h1v57h-1zM721 158h1v57h-1zM722 191h1v24h-1zM723 191h1v24h-1zM724 186h1v41h-1zM725 186h1v41h-1zM726 167h1v41h-1zM727 167h1v41h-1zM728 195h1v31h-1zM729 195h1v31h-1zM730 191h1v50h-1zM731 191h1v50h-1zM732 205h1v29h-1zM733 205h1v29h-1zM734 214h1v31h-1zM735 214h1v31h-1zM736 152h1v80h-1zM737 152h1v80h-1zM738 139h1v27h-1zM739 139h1v27h-1zM740 145h1v43h-1zM741 145h1v43h-1zM742 145h1v72h-1zM743 145h1v72h-1zM744 207h1v27h-1zM745 207h1v27h-1zM746 173h1v63h-1zM747 173h1v63h-1zM748 137h1v46h-1zM749 137h1v46h-1zM750 152h1v55h-1zM751 152h1v55h-1zM752 184h1v24h-1zM753 184h1v24h-1zM754 190h1v23h-1zM755 190h1v23h-1zM756 165h1v35h-1zM757 165h1v35h-1zM758 200h1v21h-1zM759 200h1v21h-1zM760 197h1v23h-1zM761 197h1v23h-1zM762 219h1v28h-1zM763 219h1v28h-1zM764 219h1v34h-1zM765 219h1v34h-1zM766 150h1v68h-1zM767 150h1v68h-1zM768 150h1v65h-1zM769 150h1v65h-1zM770 190h1v42h-1zM771 190h1v42h-1zM772 152h1v39h-1zM773 152h1v39h-1zM774 132h1v40h-1zM775 132h1v40h-1zM776 171h1v42h-1zM777 171h1v42h-1zM778 177h1v34h-1zM779 177h1v34h-1zM780 178h1v49h-1zM781 178h1v49h-1z"/>
<path fill="#80ff80" d="M68 577h4v3h-4zM72 576h4v4h-4zM76 574h3v6h-3zM79 572h3v8h-3zM82 571h3v9h-3zM85 570h27v10h-27zM112 563h4v17h-4zM116 562h20v18h-20zM136 557h2v23h-2zM138 556h4v24h-4zM142 555h3v25h-3zM145 554h5v26h-5zM150 553h4v27h-4zM154 552h2v28h-2zM156 551h3v29h-3zM159 550h3v30h-3zM162 551h16v29h-16zM178 545h4v35h-4zM182 544h2v36h-2zM184 543h3v37h-3zM187 542h3v38h-3zM190 541h3v39h-3zM193 540h3v40h-3zM196 539h2v41h-2zM198 538h4v42h-4zM202 537h34v43h-34zM236 533h6v47h-6zM242 531h6v49h-6zM248 530h36v50h-36zM284 525h24v55h-24zM308 519h4v61h-4zM312 517h2v63h-2zM314 502h8v78h-8zM322 499h8v81h-8zM330 496h22v84h-22zM352 490h6v90h-6zM358 489h2v91h-2zM360 485h28v95h-28zM388 484h10v96h-10zM398 483h12v97h-12zM410 482h10v98h-10zM420 480h4v100h-4zM424 464h6v116h-6zM430 462h28v118h-28zM458 461h2v119h-2zM460 457h18v123h-18zM478 454h68v126h-68zM546 450h2v130h-2zM548 442h6v138h-6zM554 440h8v140h-8zM562 439h24v141h-24zM586 429h4v151h-4zM590 423h6v157h-6zM596 422h4v158h-4zM600 421h46v159h-46zM646 417h5v163h-5zM651 416h3v164h-3zM654 415h12v165h-12zM666 412h4v168h-4zM670 408h8v172h-8zM678 407h6v173h-6zM684 403h4v177h-4zM688 397h18v183h-18zM706 395h2v185h-2zM708 392h10v188h-10zM718 388h20v192h-20zM738 385h2v195h-2zM740 372h10v208h-10zM750 368h6v212h-6zM756 364h4v216h-4zM760 361h22v219h-22z"/><path fill="#a9a94f" d="M51 579h3v1h-3zM54 578h4v2h-4zM58 577h4v3h-4zM62 576h4v4h-4zM66 575h2v5h-2zM68 575h1v2h-1zM69 574h3v3h-3zM72 574h1v2h-1zM73 573h3v3h-3zM76 573h1v1h-1zM77 572h2v2h-2zM81 571h1v1h-1zM89 569h4v1h-4zM93 568h3v2h-3zM96 567h4v3h-4zM100 566h4v4h-4zM104 565h4v5h-4zM108 564h4v6h-4zM119 561h4v1h-4zM123 560h4v2h-4zM127 559h4v3h-4zM131 558h4v4h-4zM135 557h1v5h-1zM149 553h1v1h-1zM152 552h2v1h-2zM162 550h1v1h-1zM163 549h3v2h-3zM166 548h3v3h-3zM169 547h4v4h-4zM173 546h4v5h-4zM177 545h1v6h-1zM181 544h1v1h-1zM201 537h1v1h-1zM204 536h2v1h-2zM206 535h2v2h-2zM208 534h3v3h-3zM211 533h2v4h-2zM213 532h2v5h-2zM215 531h3v6h-3zM218 530h2v7h-2zM220 529h2v8h-2zM222 528h3v9h-3zM225 527h2v10h-2zM227 526h2v11h-2zM229 525h3v12h-3zM232 524h2v13h-2zM234 523h2v14h-2zM236 523h1v10h-1zM237 522h3v11h-3zM240 521h2v12h-2zM242 520h3v11h-3zM245 519h3v12h-3zM248 518h2v12h-2zM250 517h3v13h-3zM253 516h3v14h-3zM256 515h2v15h-2zM258 514h4v16h-4zM262 513h3v17h-3zM265 512h3v18h-3zM268 511h4v19h-4zM272 510h3v20h-3zM275 509h3v21h-3zM278 508h4v22h-4zM282 507h2v23h-2zM284 507h1v18h-1zM285 506h3v19h-3zM288 505h4v20h-4zM292 504h3v21h-3zM295 503h4v22h-4zM299 502h4v23h-4zM303 501h3v24h-3zM306 500h2v25h-2zM308 500h2v19h-2zM310 499h2v20h-2zM312 499h2v18h-2zM314 498h3v4h-3zM317 497h4v5h-4zM321 496h1v6h-1zM322 496h2v3h-2zM324 495h2v4h-2zM326 494h3v5h-3zM329 493h1v6h-1zM330 493h1v3h-1zM331 492h3v4h-3zM334 491h3v5h-3zM337 490h2v6h-2zM339 489h3v7h-3zM342 488h3v8h-3zM345 487h2v9h-2zM347 486h3v10h-3zM350 485h2v11h-2zM352 484h3v6h-3zM355 483h3v7h-3zM358 483h1v6h-1zM359 482h1v7h-1zM360 482h2v3h-2zM362 481h2v4h-2zM364 480h2v5h-2zM366 479h3v6h-3zM369 478h2v7h-2zM371 477h2v8h-2zM373 476h2v9h-2zM375 475h3v10h-3zM378 474h2v11h-2zM380 473h2v12h-2zM382 472h2v13h-2zM384 471h3v14h-3zM387 470h1v15h-1zM388 470h1v14h-1zM389 469h2v15h-2zM391 468h2v16h-2zM393 467h2v17h-2zM395 466h3v18h-3zM398 465h2v18h-2zM400 464h2v19h-2zM402 463h2v20h-2zM404 462h2v21h-2zM406 461h3v22h-3zM409 460h1v23h-1zM410 460h1v22h-1zM411 459h2v23h-2zM413 458h2v24h-2zM415 457h3v25h-3zM418 456h2v26h-2zM420 455h3v25h-3zM423 454h1v26h-1zM424 454h1v10h-1zM425 453h3v11h-3zM428 452h2v12h-2zM430 451h3v11h-3zM433 450h2v12h-2zM435 449h3v13h-3zM438 448h4v14h-4zM442 447h3v15h-3zM445 446h3v16h-3zM448 445h3v17h-3zM451 444h3v18h-3zM454 443h4v19h-4zM458 442h2v19h-2zM460 442h1v15h-1zM461 441h3v16h-3zM464 440h3v17h-3zM467 439h2v18h-2zM469 438h3v19h-3zM472 437h2v20h-2zM474 436h3v21h-3zM477 435h1v22h-1zM478 435h3v19h-3zM481 434h3v20h-3zM484 433h4v21h-4zM488 432h3v22h-3zM491 431h4v23h-4zM495 430h4v24h-4zM499 429h3v25h-3zM502 428h3v26h-3zM505 427h3v27h-3zM508 426h3v28h-3zM511 425h2v29h-2zM513 424h3v30h-3zM516 423h3v31h-3zM519 422h3v32h-3zM522 421h2v33h-2zM524 420h3v34h-3zM527 419h3v35h-3zM530 418h2v36h-2zM532 417h3v37h-3zM535 416h3v38h-3zM538 415h3v39h-3zM541 414h2v40h-2zM543 413h3v41h-3zM546 412h2v38h-2zM548 411h3v31h-3zM551 410h2v32h-2zM553 409h1v33h-1zM554 409h2v31h-2zM556 408h2v32h-2zM558 407h3v33h-3zM561 406h1v34h-1zM562 406h1v33h-1zM563 405h3v34h-3zM566 404h2v35h-2zM568 403h3v36h-3zM571 402h3v37h-3zM574 401h3v38h-3zM577 400h2v39h-2zM579 399h3v40h-3zM582 398h3v41h-3zM585 397h1v42h-1zM586 397h2v32h-2zM588 396h2v33h-2zM590 396h1v27h-1zM591 395h3v28h-3zM594 394h2v29h-2zM596 393h3v29h-3zM599 392h1v30h-1zM600 392h2v29h-2zM602 391h3v30h-3zM605 390h3v31h-3zM608 389h3v32h-3zM611 388h3v33h-3zM614 387h3v34h-3zM617 386h3v35h-3zM620 385h3v36h-3zM623 384h3v37h-3zM626 383h3v38h-3zM629 382h3v39h-3zM632 381h3v40h-3zM635 380h3v41h-3zM638 379h3v42h-3zM641 378h3v43h-3zM644 377h2v44h-2zM646 377h1v40h-1zM647 376h3v41h-3zM650 375h1v42h-1zM651 375h2v41h-2zM653 374h1v42h-1zM654 374h2v41h-2zM656 373h3v42h-3zM659 372h3v43h-3zM662 371h3v44h-3zM665 370h1v45h-1zM666 370h2v42h-2zM668 369h2v43h-2zM670 369h1v39h-1zM671 368h3v40h-3zM674 367h3v41h-3zM677 366h1v42h-1zM678 366h2v41h-2zM680 365h3v42h-3zM683 364h1v43h-1zM684 364h2v39h-2zM686 363h2v40h-2zM688 363h1v34h-1zM689 362h4v35h-4zM693 361h3v36h-3zM696 360h3v37h-3zM699 359h3v38h-3zM702 358h4v39h-4zM706 357h2v38h-2zM708 357h1v35h-1zM709 356h3v36h-3zM712 355h3v37h-3zM715 354h3v38h-3zM718 354h1v34h-1zM719 353h3v35h-3zM722 352h3v36h-3zM725 351h3v37h-3zM728 350h3v38h-3zM731 349h4v39h-4zM735 348h3v40h-3zM738 347h2v38h-2zM740 347h1v25h-1zM741 346h3v26h-3zM744 345h3v27h-3zM747 344h3v28h-3zM750 343h4v25h-4zM754 342h2v26h-2zM756 342h2v22h-2zM758 341h2v23h-2zM760 341h2v20h-2zM762 340h4v21h-4zM766 339h5v22h-5zM771 338h4v23h-4zM775 337h4v24h-4zM779 336h3v25h-3z"/><path fill="#006400" d="M82 570h3v1h-3zM112 562h4v1h-4zM136 554h2v3h-2zM138 554h4v2h-4zM142 554h3v1h-3zM154 550h2v2h-2zM156 550h3v1h-3zM182 540h2v4h-2zM184 538h3v5h-3zM187 538h3v4h-3zM190 538h3v3h-3zM193 538h3v2h-3zM196 538h2v1h-2z"/>
<path d="M51 72.5H782M51 115.5H782M51 158.5H782M51 201.5H782M51 244.5H782M51 287.5H782M51 552.5H782M51 524.5H782M51 496.5H782M51 468.5H782M51 441.5H782M51 413.5H782M51 385.5H782M51 357.5H782" stroke="#8c8c8c" stroke-width="1" stroke-dasharray="3.02 3.02" stroke-dashoffset="2" fill="none"/>
<path d="M112.5 31V580M170.5 31V580M232.5 31V580M292.5 31V580M354.5 31V580M414.5 31V580M477.5 31V580M539.5 31V580M599.5 31V580M661.5 31V580M721.5 31V580" stroke="#8c8c8c" stroke-width="1" stroke-dasharray="3 3" stroke-dashoffset="3" fill="none"/>
<rect x="51" y="31" width="45" height="45" fill="#fff"/>
<g transform="translate(74.2,53.8)" shape-rendering="auto">
<circle r="18" fill="none" stroke="#aaa4de" stroke-width="2.6" stroke-dasharray="1.1 0.7"/>
<circle r="16.3" fill="#6a5acd"/>
<path d="M-13.6 -9A16.3 16.3 0 0 1 13.6 -9C8.5 -5 5.5 3.5 0.5 4.5C-5.5 2.5 -8 -5 -13.6 -9Z" fill="#1b0a9c"/>
<path d="M-16.2 -4.5C-14.5 -6.5 -13.8 -8.6 -13.4 -9.4C-7.5 -6.5 -5.5 2.8 0.5 4.2C5.8 3 8.6 -5.6 14.2 -9.2C15.2 -7.6 15.7 -6 15.9 -4.6C11.5 -1.5 8 3.2 3.2 5.4L7.6 4.6L-4.4 8.4L-1.6 5.8C-7.5 4.5 -11 -3 -16.2 -4.5Z" fill="#fff"/>
<text x="0" y="-5.4" font-size="5.2" font-weight="bold" fill="#fff" text-anchor="middle" textLength="14.5" lengthAdjust="spacingAndGlyphs">NOAA</text>
</g>
<path d="M50.5 30.5H782.5V580.5H50.5ZM50 330.5H783" stroke="#000" stroke-width="1" fill="none"/>
<g shape-rendering="auto" fill="#000">
<text x="415" y="25" font-size="18.6" text-anchor="middle" textLength="330" lengthAdjust="spacingAndGlyphs">GEORGETOWN/SUSSEX, DE - 2008</text>
<text x="43.6" y="78.0" font-size="11.5" text-anchor="end">100</text>
<text x="787.8" y="78.0" font-size="11.5">100</text>
<text x="43.6" y="121.0" font-size="11.5" text-anchor="end">80</text>
<text x="787.8" y="121.0" font-size="11.5">80</text>
<text x="43.6" y="164.0" font-size="11.5" text-anchor="end">60</text>
<text x="787.8" y="164.0" font-size="11.5">60</text>
<text x="43.6" y="207.0" font-size="11.5" text-anchor="end">40</text>
<text x="787.8" y="207.0" font-size="11.5">40</text>
<text x="43.6" y="250.0" font-size="11.5" text-anchor="end">20</text>
<text x="787.8" y="250.0" font-size="11.5">20</text>
<text x="43.6" y="293.0" font-size="11.5" text-anchor="end">0</text>
<text x="787.8" y="293.0" font-size="11.5">0</text>
<text x="43.6" y="336.0" font-size="11.5" text-anchor="end">-20</text>
<text x="787.8" y="336.0" font-size="11.5">-20</text>
<text x="43.6" y="558.0" font-size="11.5" text-anchor="end">5</text>
<text x="787.8" y="558.0" font-size="11.5">5</text>
<text x="43.6" y="530.0" font-size="11.5" text-anchor="end">10</text>
<text x="787.8" y="530.0" font-size="11.5">10</text>
<text x="43.6" y="502.0" font-size="11.5" text-anchor="end">15</text>
<text x="787.8" y="502.0" font-size="11.5">15</text>
<text x="43.6" y="474.0" font-size="11.5" text-anchor="end">20</text>
<text x="787.8" y="474.0" font-size="11.5">20</text>
<text x="43.6" y="447.0" font-size="11.5" text-anchor="end">25</text>
<text x="787.8" y="447.0" font-size="11.5">25</text>
<text x="43.6" y="419.0" font-size="11.5" text-anchor="end">30</text>
<text x="787.8" y="419.0" font-size="11.5">30</text>
<text x="43.6" y="391.0" font-size="11.5" text-anchor="end">35</text>
<text x="787.8" y="391.0" font-size="11.5">35</text>
<text x="43.6" y="363.0" font-size="11.5" text-anchor="end">40</text>
<text x="787.8" y="363.0" font-size="11.5">40</text>
<text x="50" y="593" font-size="14" letter-spacing="0.1">Jan</text>
<text x="112" y="593" font-size="14" letter-spacing="0.1">Feb</text>
<text x="170" y="593" font-size="14" letter-spacing="0.1">Mar</text>
<text x="232" y="593" font-size="14" letter-spacing="0.1">Apr</text>
<text x="292" y="593" font-size="14" letter-spacing="0.1">May</text>
<text x="354" y="593" font-size="14" letter-spacing="0.1">Jun</text>
<text x="414" y="593" font-size="14" letter-spacing="0.1">Jul</text>
<text x="477" y="593" font-size="14" letter-spacing="0.1">Aug</text>
<text x="539" y="593" font-size="14" letter-spacing="0.1">Sep</text>
<text x="599" y="593" font-size="14" letter-spacing="0.1">Oct</text>
<text x="661" y="593" font-size="14" letter-spacing="0.1">Nov</text>
<text x="721" y="593" font-size="14" letter-spacing="0.1">Dec</text>
<text transform="translate(21,180.5) rotate(-90)" font-size="16.5" text-anchor="middle">Temperature (Deg F)</text>
<text transform="translate(21,455.2) rotate(-90)" font-size="16.5" text-anchor="middle">Precipitation (Inches)</text>
<text x="722" y="358" font-size="16" fill="#222">39.50</text>
<rect x="50" y="605" width="41" height="6" fill="#ccccff" shape-rendering="crispEdges"/>
<text x="93.2" y="610" font-size="12" letter-spacing="0.75">Record Min</text>
<rect x="200" y="605" width="41" height="6" fill="#ffcccc" shape-rendering="crispEdges"/>
<text x="243.2" y="610" font-size="12" letter-spacing="0.75">Record Max</text>
<rect x="350" y="605" width="41" height="6" fill="#ccffcc" shape-rendering="crispEdges"/>
<text x="393.2" y="610" font-size="12" letter-spacing="0.75">Normal</text>
<rect x="490" y="605" width="41" height="6" fill="#a9a94f" shape-rendering="crispEdges"/>
<text x="533.2" y="610" font-size="12" letter-spacing="0.75">Below Normal</text>
<rect x="650" y="605" width="41" height="6" fill="#006400" shape-rendering="crispEdges"/>
<text x="693.2" y="610" font-size="12" letter-spacing="0.75">Above Normal</text>
</g>
</svg>
</body></html>
